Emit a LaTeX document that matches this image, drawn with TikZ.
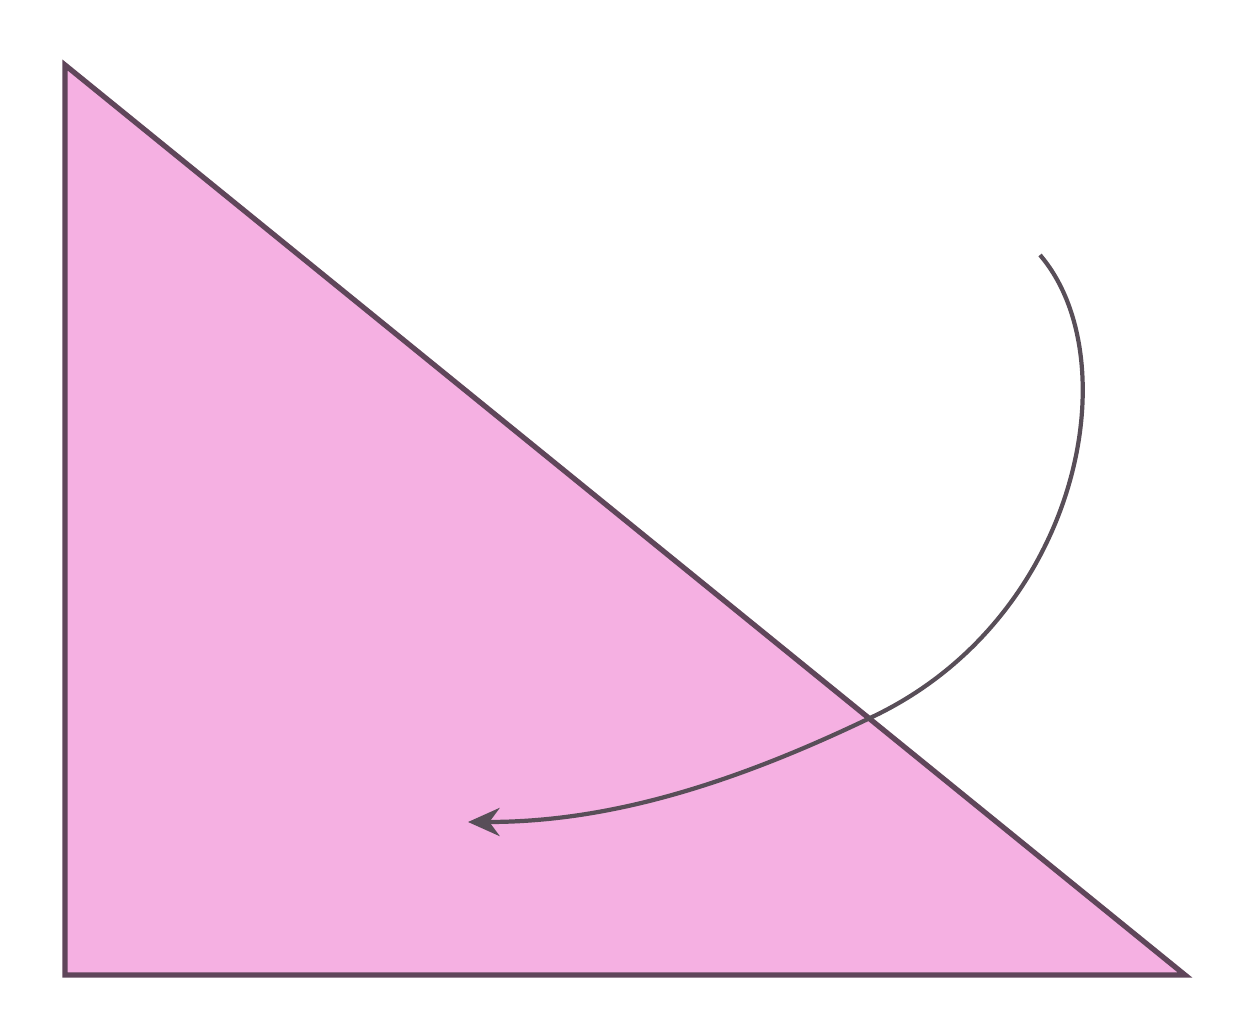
\documentclass[tikz,border=0pt]{standalone}
\usepackage{xcolor}
\usepackage{tikz}
\usetikzlibrary{arrows.meta}
\definecolor{paperpink}{RGB}{245,176,226}
\definecolor{edgeplum}{RGB}{95,70,90}
\definecolor{turnline}{RGB}{88,78,88}

\begin{document}
\begin{tikzpicture}[
  x=0.01cm, y=-0.01cm,
  sheet/.style={fill=paperpink, draw=edgeplum, line width=1.5pt, line join=miter},
  turn/.style={-{Stealth[length=9pt, width=8pt]}, draw=turnline, line width=1.2pt},
]
\useasboundingbox (0,0) rectangle (1241,1018);
% Folded triangle
\coordinate (tl) at (65,65);
\coordinate (bl) at (65,975);
\coordinate (br) at (1185,975);
\draw[sheet] (tl) -- (bl) -- (br) -- cycle;

% Turn-over arrow
\coordinate (s) at (1040,255);
\coordinate (m) at (870,718);
\coordinate (e) at (468,822);
\draw[turn] (s) .. controls (1130,360) and (1080,620) .. (m)
  .. controls (720,790) and (600,822) .. (e);
\end{tikzpicture}
\end{document}
